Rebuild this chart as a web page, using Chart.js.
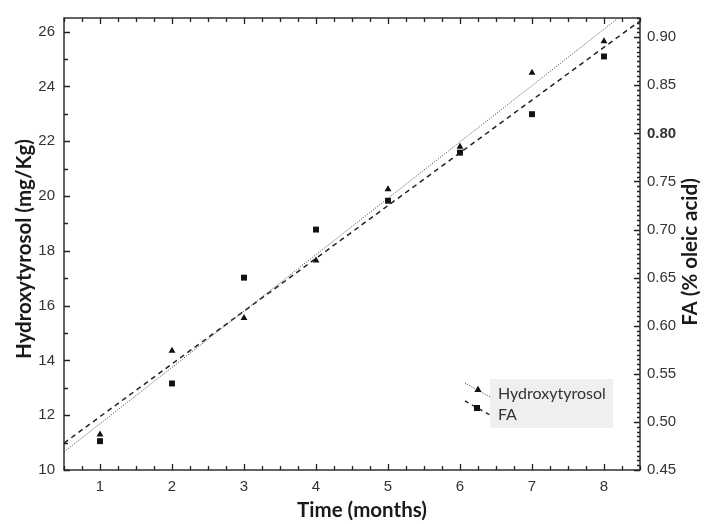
<!DOCTYPE html>
<html>
<head>
<meta charset="utf-8">
<script src="https://cdn.jsdelivr.net/npm/chart.js@4.4.1/dist/chart.umd.min.js"></script>
<style>
  html, body { margin: 0; padding: 0; background: #fff; }
  canvas { display: block; }
</style>
</head>
<body>
<canvas id="chart" width="705" height="524"></canvas>
<script>
// storage time (months) and measured values
const months = [1, 2, 3, 4, 5, 6, 7, 8];
const hydroxytyrosol = [11.3, 14.35, 15.55, 17.65, 20.25, 21.8, 24.5, 25.65];
const freeAcidity = [0.48, 0.54, 0.65, 0.70, 0.73, 0.78, 0.82, 0.88];

// fitted trend lines, ends at the plot edges
const fitMonths = [0.5, 8.5];
const hydroxyFit = [10.66, 27.12];
const faFit = [0.478, 0.917];

// axis tick labels
const monthTicks = [1, 2, 3, 4, 5, 6, 7, 8];
const leftTicks = [10, 12, 14, 16, 18, 20, 22, 24, 26];
const rightTicks = [0.45, 0.50, 0.55, 0.60, 0.65, 0.70, 0.75, 0.80, 0.85, 0.90];

const toPoints = (xs, ys) => xs.map((x, i) => ({ x: x, y: ys[i] }));

const labelFont = { family: '"Liberation Sans", Arial, sans-serif', size: 15 };
const labelColor = '#333';
const titleFont = 'bold 20.5px Lato, "Open Sans", sans-serif';

// box round the plot with small inward ticks on all four sides
const frameTicks = {
  id: 'frameTicks',
  afterDatasetsDraw(chart) {
    const { ctx, chartArea: a, scales } = chart;
    ctx.save();
    ctx.setLineDash([]);
    ctx.strokeStyle = '#222';
    ctx.lineWidth = 1.3;
    ctx.beginPath();
    for (let i = 0; i <= 32; i++) {
      const v = 0.5 + i * 0.25;
      const px = Math.round(scales.x.getPixelForValue(v)) + 0.5;
      const len = (i % 4 === 2) ? 6 : 4;
      ctx.moveTo(px, a.bottom); ctx.lineTo(px, a.bottom - len);
      ctx.moveTo(px, a.top); ctx.lineTo(px, a.top + len);
    }
    for (let v = 10; v <= 26; v++) {
      const py = Math.round(scales.y.getPixelForValue(v)) + 0.5;
      ctx.moveTo(a.left, py); ctx.lineTo(a.left + (v % 2 === 0 ? 6 : 4), py);
    }
    for (let i = 0; i <= 94; i++) {
      const v = 0.45 + i * 0.005;
      const py = Math.round(scales.y2.getPixelForValue(v)) + 0.5;
      ctx.moveTo(a.right, py); ctx.lineTo(a.right - (i % 10 === 0 ? 6 : 3), py);
    }
    ctx.stroke();
    ctx.lineWidth = 1.4;
    ctx.strokeRect(a.left, a.top, a.width, a.height);
    ctx.restore();
  }
};

// axis titles and the legend box
const titlesLegend = {
  id: 'titlesLegend',
  afterDraw(chart) {
    const { ctx } = chart;
    ctx.save();
    ctx.fillStyle = '#1a1a1a';
    ctx.font = titleFont;
    ctx.textAlign = 'center';
    ctx.textBaseline = 'middle';
    ctx.fillText('Time (months)', 362, 510);
    ctx.save();
    ctx.translate(24, 249);
    ctx.rotate(-Math.PI / 2);
    ctx.fillText('Hydroxytyrosol (mg/Kg)', 0, 0);
    ctx.restore();
    ctx.save();
    ctx.translate(690, 252);
    ctx.rotate(-Math.PI / 2);
    ctx.fillText('FA (% oleic acid)', 0, 0);
    ctx.restore();

    // legend
    ctx.fillStyle = '#efefef';
    ctx.fillRect(490, 379, 123, 49);
    ctx.strokeStyle = '#333';
    ctx.lineWidth = 1;
    ctx.setLineDash([1, 1.5]);
    ctx.beginPath(); ctx.moveTo(465, 383); ctx.lineTo(490, 397); ctx.stroke();
    ctx.setLineDash([4, 4]);
    ctx.lineWidth = 1.5;
    ctx.beginPath(); ctx.moveTo(465, 401); ctx.lineTo(490, 415); ctx.stroke();
    ctx.setLineDash([]);
    ctx.fillStyle = '#111';
    Chart.helpers.drawPoint(ctx, { pointStyle: 'triangle', radius: 4, rotation: 0 }, 478, 390);
    ctx.fill();
    Chart.helpers.drawPoint(ctx, { pointStyle: 'rect', radius: 4.2, rotation: 0 }, 477, 408);
    ctx.fill();
    ctx.fillStyle = '#333';
    ctx.font = '16px Lato, "Open Sans", sans-serif';
    ctx.textAlign = 'left';
    ctx.textBaseline = 'alphabetic';
    ctx.fillText('Hydroxytyrosol', 498, 399);
    ctx.fillText('FA', 498, 420);
    ctx.restore();
  }
};

new Chart(document.getElementById('chart'), {
  type: 'scatter',
  data: {
    datasets: [
      {
        label: 'Hydroxytyrosol',
        data: toPoints(months, hydroxytyrosol),
        yAxisID: 'y',
        pointStyle: 'triangle',
        pointRadius: 4,
        backgroundColor: '#111',
        borderColor: '#111',
        borderWidth: 0
      },
      {
        label: 'FA',
        data: toPoints(months, freeAcidity),
        yAxisID: 'y2',
        pointStyle: 'rect',
        pointRadius: 4.2,
        backgroundColor: '#111',
        borderColor: '#111',
        borderWidth: 0
      },
      {
        label: 'Hydroxytyrosol fit',
        data: toPoints(fitMonths, hydroxyFit),
        yAxisID: 'y',
        showLine: true,
        pointRadius: 0,
        borderColor: '#444',
        borderWidth: 1,
        borderDash: [1, 1.5]
      },
      {
        label: 'FA fit',
        data: toPoints(fitMonths, faFit),
        yAxisID: 'y2',
        showLine: true,
        pointRadius: 0,
        borderColor: '#222',
        borderWidth: 1.5,
        borderDash: [5, 4]
      }
    ]
  },
  options: {
    responsive: false,
    animation: false,
    devicePixelRatio: 1,
    layout: { padding: { top: 15.5, left: 0, right: 0, bottom: 0 } },
    plugins: { legend: { display: false }, tooltip: { enabled: false } },
    scales: {
      x: {
        type: 'linear',
        min: 0.5,
        max: 8.5,
        afterBuildTicks: s => { s.ticks = monthTicks.map(v => ({ value: v })); },
        afterFit: s => { s.height = 54; },
        grid: { display: false, drawTicks: false },
        border: { display: false },
        ticks: { font: labelFont, color: labelColor, padding: 8, autoSkip: false, maxRotation: 0 }
      },
      y: {
        position: 'left',
        min: 10,
        max: 26.5,
        afterBuildTicks: s => { s.ticks = leftTicks.map(v => ({ value: v })); },
        afterFit: s => { s.width = 64; },
        grid: { display: false, drawTicks: false },
        border: { display: false },
        ticks: { font: labelFont, color: labelColor, padding: 9 }
      },
      y2: {
        position: 'right',
        min: 0.45,
        max: 0.92,
        afterBuildTicks: s => { s.ticks = rightTicks.map(v => ({ value: v })); },
        afterFit: s => { s.width = 65; },
        grid: { display: false, drawTicks: false },
        border: { display: false },
        ticks: {
          color: labelColor,
          padding: 7,
          callback: v => v.toFixed(2),
          // the 0.80 label is set in bold
          font: c => (c.tick && Math.abs(c.tick.value - 0.8) < 1e-6)
            ? Object.assign({}, labelFont, { weight: 'bold' })
            : labelFont
        }
      }
    }
  },
  plugins: [frameTicks, titlesLegend]
});
</script>
</body>
</html>
